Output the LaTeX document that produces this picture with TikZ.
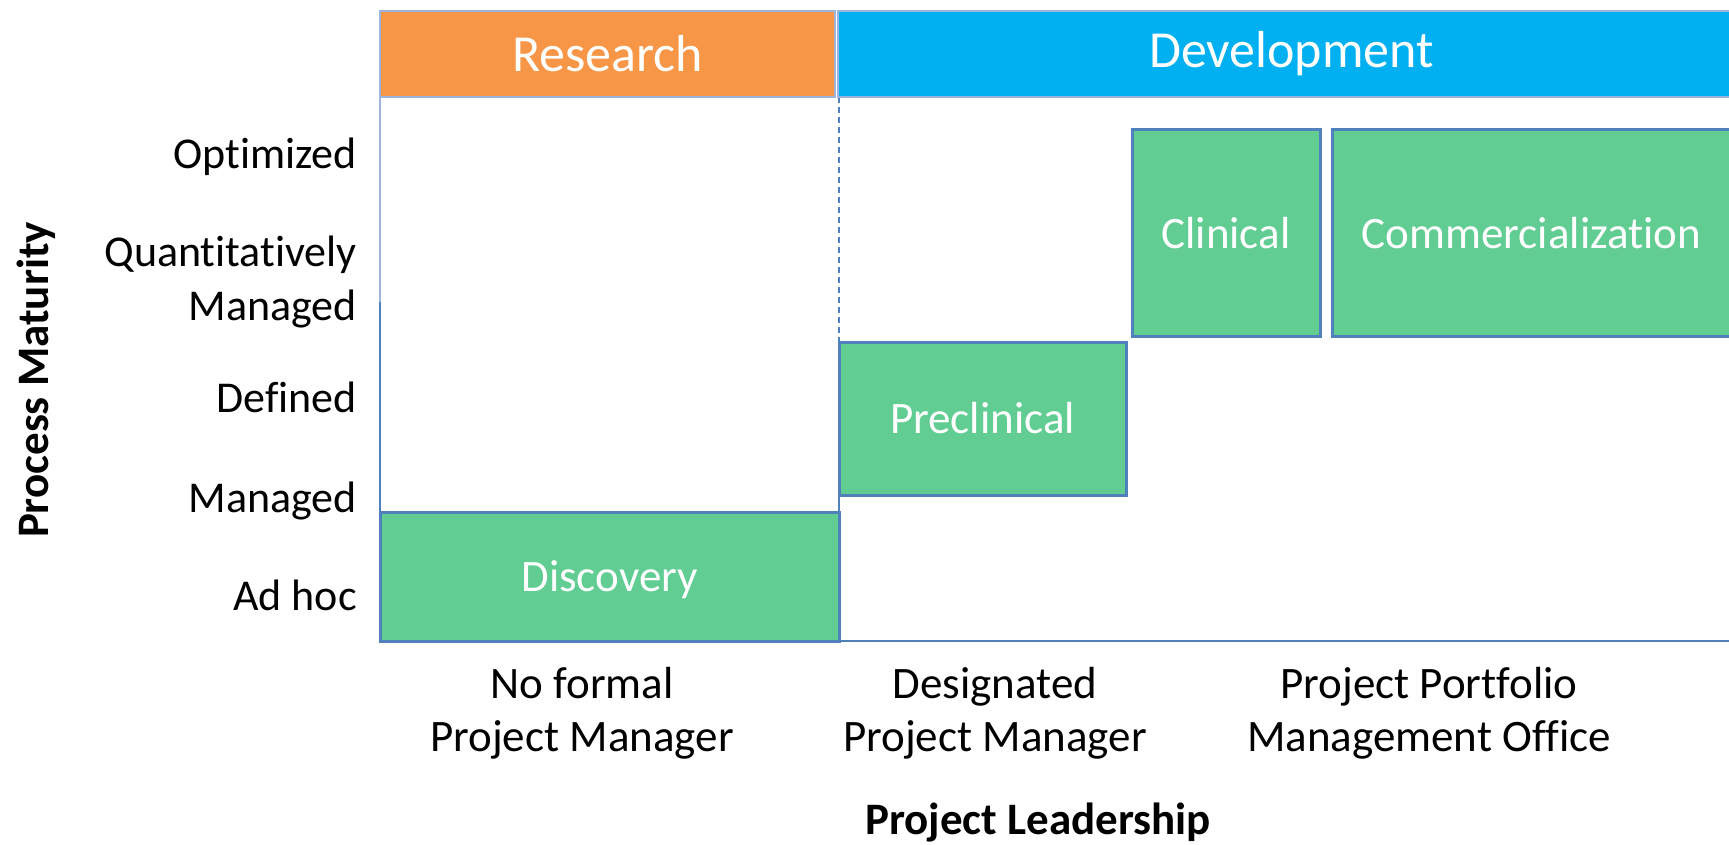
\documentclass[tikz,border=0pt]{standalone}
\usepackage{fontspec}
\setmainfont{Carlito}[Ligatures=NoCommon]
\definecolor{borderblue}{HTML}{4F81BD}
\definecolor{paleblue}{HTML}{9DB5DC}
\definecolor{resorange}{HTML}{F79646}
\definecolor{devblue}{HTML}{00B0F0}
\definecolor{stagegreen}{HTML}{62CD93}
\begin{document}
\begin{tikzpicture}[x=1pt,y=-1pt,
  header/.style={draw=paleblue, line width=2pt, text=white, font=\fontsize{52}{60}\selectfont, inner sep=0pt, outer sep=0pt},
  stage/.style={draw=borderblue, fill=stagegreen, line width=3pt, text=white, font=\fontsize{45}{53}\selectfont, inner sep=0pt, outer sep=0pt},
  level/.style={anchor=base east, font=\fontsize{44}{52}\selectfont, inner sep=0pt},
  lead/.style={align=center, font=\fontsize{45}{53}\selectfont, inner sep=0pt},
  axistitle/.style={font=\bfseries\fontsize{45}{53}\selectfont, inner sep=0pt},
  gridline/.style={draw=borderblue, line width=2.5pt},
]
\useasboundingbox (0,0) rectangle (1729,845);
\clip (0,0) rectangle (1729,845);

% grid coordinates
\coordinate (gtl) at (380,97);
\coordinate (gsplit) at (380,302);
\coordinate (gbl) at (380,641);
\coordinate (gbr) at (1735,641);
\coordinate (dtop) at (839,97);
\coordinate (dmid) at (839,342);
\coordinate (dbot) at (839,641);

% grid lines
\draw[draw=paleblue, line width=2pt] (gtl) -- (gsplit);
\draw[gridline] (gsplit) -- (gbl) -- (gbr);
\draw[draw=borderblue, line width=1.5pt, dash pattern=on 6pt off 4pt] (dtop) -- (dmid);
\draw[gridline] (dmid) -- (dbot);

% headers
\node[header, fill=resorange, minimum width=455, minimum height=86] (research) at (607.5,54) {Research};
\node[header, fill=devblue, minimum width=907, minimum height=86] (development) at (1291.5,54) {Development};

% stages
\node[stage, minimum width=459, minimum height=129, text depth=0pt] (discovery) at (609.5,576.5) {Discovery};
\node[stage, minimum width=287, minimum height=153] (preclinical) at (982.5,418.5) {Preclinical};
\node[stage, minimum width=188, minimum height=206] (clinical) at (1226,233) {Clinical};
\node[stage, minimum width=399, minimum height=206] (commercial) at (1531.5,233) {Commercialization};

% maturity levels
\node[level] (optimized) at (357,169) {Optimized};
\node[level] (quant) at (357,266) {Quantitatively};
\node[level] (quantmgd) at (357,320) {Managed};
\node[level] (defined) at (357,412) {Defined};
\node[level] (managed) at (357,512) {Managed};
\node[level] (adhoc) at (357,610) {Ad hoc};

% leadership levels
\node[lead] (noformal) at (582,713) {No formal\\Project Manager};
\node[lead] (designated) at (995,713) {Designated\\Project Manager};
\node[lead] (ppmo) at (1429,713) {Project Portfolio\\Management Office};

% axis titles
\node[axistitle, anchor=base] (xtitle) at (1038,834) {Project Leadership};
\node[axistitle, rotate=90] (ytitle) at (36,380) {Process Maturity};
\end{tikzpicture}
\end{document}
